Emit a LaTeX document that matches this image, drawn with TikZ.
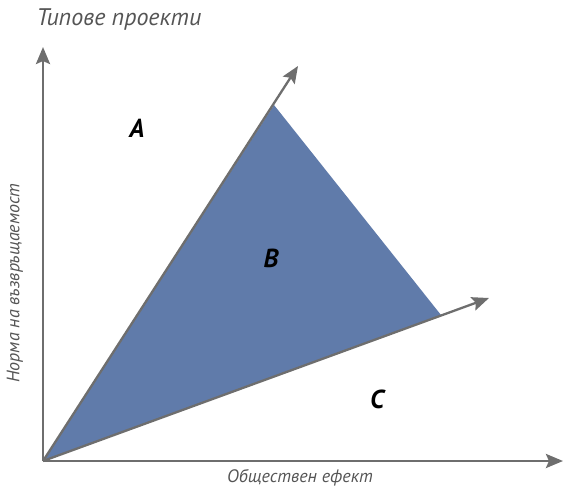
\documentclass[tikz,border=0pt]{standalone}
\usepackage{fontspec}
\setmainfont{PT Sans}
\usetikzlibrary{arrows.meta}
\definecolor{fillblue}{RGB}{96,123,170}
\definecolor{axisgray}{RGB}{110,110,110}
\definecolor{textgray}{RGB}{85,85,85}
\begin{document}
\begin{tikzpicture}[x=1pt,y=-1pt,
  axis/.style={draw=axisgray,line width=2.8pt,-{Stealth[length=17pt,width=14pt,inset=3pt]}},
  ray/.style={draw=axisgray,line width=2.3pt,-{Stealth[length=17pt,width=14pt,inset=3pt]}},
  region/.style={font=\fontsize{26}{30}\selectfont\bfseries\itshape,text=black},
  axlabel/.style={font=\fontsize{18}{22}\selectfont\itshape,text=textgray}]
\useasboundingbox (0,0) rectangle (563,490);
\coordinate (O) at (43,461);
\coordinate (Y) at (43,47);
\coordinate (X) at (563,461);
\coordinate (U) at (298,66);
\coordinate (L) at (489,298);
\coordinate (T) at (274,105);
\coordinate (R) at (441,315);
\fill[fillblue] (O) -- (T) -- (R) -- cycle;
\draw[ray] (O) -- (U);
\draw[ray] (O) -- (L);
\draw[axis] (O) -- (Y);
\draw[axis] (O) -- (X);
\node[font=\fontsize{24}{28}\selectfont\itshape,text=textgray,anchor=west] (title) at (33,19) {Типове проекти};
\node[axlabel,rotate=90] (ylab) at (15,283) {Норма на възвръщаемост};
\node[axlabel] (xlab) at (300,478) {Обществен ефект};
\node[region] (A) at (137,128) {A};
\node[region] (B) at (271,258) {B};
\node[region] (C) at (377,399) {C};
\end{tikzpicture}
\end{document}
